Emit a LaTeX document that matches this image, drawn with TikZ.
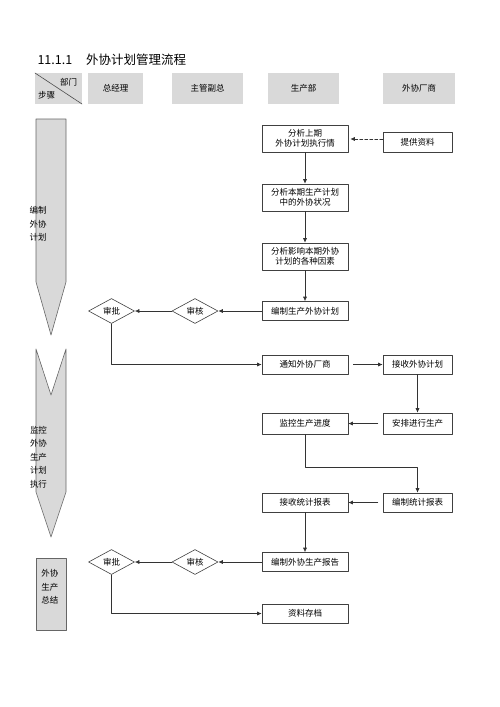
\documentclass[tikz,border=0pt]{standalone}
\usepackage{fontspec}
\setmainfont{Noto Sans CJK SC}
\usetikzlibrary{arrows.meta,shapes.geometric}

\begin{document}
\begin{tikzpicture}[
    x=1pt,
    y=-1pt,
    line cap=round,
    line join=round,
    every node/.style={
        font=\fontsize{8.5}{10}\selectfont
    },
    box/.style={
        draw=black!75,
        line width=0.6pt,
        align=center,
        inner sep=1pt,
        minimum height=19pt
    },
    wide/.style={
        box,
        minimum width=86pt
    },
    narrow/.style={
        box,
        minimum width=69pt
    },
    check/.style={
        draw=black!75,
        line width=0.6pt,
        diamond,
        aspect=1.8,
        inner sep=0pt,
        minimum width=46pt,
        minimum height=25pt
    },
    head/.style={
        fill=gray!30,
        minimum height=31pt,
        inner sep=0pt
    },
    phase/.style={
        fill=gray!30,
        draw=black!60,
        line width=0.6pt
    },
    phasetext/.style={
        align=center,
        font=\fontsize{8.5}{13.5}\selectfont
    },
    flow/.style={
        draw=black!80,
        line width=0.6pt,
        -{Latex[length=4.5pt,width=4pt]}
    },
    feed/.style={
        flow,
        dashed,
        dash pattern=on 3pt off 2pt
    }
]

\useasboundingbox (0,0) rectangle (500,707);

% =================================================
% 标题与表头
% =================================================

\node[anchor=west, font=\fontsize{12.5}{15}\selectfont] (title) at (34,60)
    {11.1.1\hspace{14pt}外协计划管理流程};

\fill[gray!30] (35,73) rectangle (82,104);
\draw[black!70, line width=0.6pt] (35,73) -- (82,104);
\node (dept)  at (68.5,82) {部门};
\node (steps) at (46.5,95) {步骤};

\node[head, minimum width=55pt] (gm)     at (115.5,88.5) {总经理};
\node[head, minimum width=71pt] (vp)     at (207.5,88.5) {主管副总};
\node[head, minimum width=71pt] (prod)   at (303.5,88.5) {生产部};
\node[head, minimum width=72pt] (vendor) at (419,88.5)   {外协厂商};

% =================================================
% 左侧阶段箭头
% =================================================

\draw[phase] (36,119) -- (66,119) -- (66,282) -- (51,335) -- (36,282) -- cycle;
\draw[phase] (36,349) -- (51,395) -- (66,349) -- (66,492) -- (51,537) -- (36,492) -- cycle;
\draw[phase] (36,558) rectangle (66,630);

\node[phasetext] (phaseA) at (38,224) {编制\\外协\\计划};
\node[phasetext] (phaseB) at (38.5,457) {监控\\外协\\生产\\计划\\执行};
\node[phasetext] (phaseC) at (50,587) {外协\\生产\\总结};

% =================================================
% 编制外协计划
% =================================================

\node[wide, minimum height=27pt] (lastrun) at (305,138.5) {分析上期\\外协计划执行情};
\node[narrow, minimum height=20pt] (supply) at (417.5,142) {提供资料};
\node[wide, minimum height=27pt] (current) at (305,197.5) {分析本期生产计划\\中的外协状况};
\node[wide, minimum height=27pt] (factors) at (305,256.5) {分析影响本期外协\\计划的各种因素};
\node[wide] (plan) at (305,311) {编制生产外协计划};
\node[check] (auditA) at (195,311) {审核};
\node[check] (approveA) at (111.5,311) {审批};

\draw[feed, shorten >=2pt] (supply.west |- 0,139) -- (lastrun.east |- 0,139);
\draw[flow] (lastrun) -- (current);
\draw[flow] (current) -- (factors);
\draw[flow] (factors) -- (plan);
\draw[flow] (plan) -- (auditA);
\draw[flow] (auditA) -- (approveA);

% =================================================
% 监控外协生产计划执行
% =================================================

\node[wide] (notify) at (305,364.5) {通知外协厂商};
\node[narrow] (receive) at (417.5,364.5) {接收外协计划};
\node[narrow, minimum height=21pt] (arrange) at (417.5,423.5) {安排进行生产};
\node[wide, minimum height=21pt] (monitor) at (305,423.5) {监控生产进度};
\node[narrow] (compile) at (417.5,502.5) {编制统计报表};
\node[wide] (collect) at (305,502.5) {接收统计报表};

\draw[flow] (approveA.south) |- (notify.west);
\draw[flow, shorten <=5pt] (notify) -- (receive);
\draw[flow] (receive) -- (arrange);
\draw[flow, shorten <=5pt] (arrange) -- (monitor);
\draw[flow] (monitor.south) -- ++(0,33) -| (compile.north);
\draw[flow, shorten <=5pt] (compile) -- (collect);

% =================================================
% 外协生产总结
% =================================================

\node[wide] (report) at (305,562) {编制外协生产报告};
\node[check] (auditB) at (195,562) {审核};
\node[check] (approveB) at (111.5,562) {审批};
\node[wide] (archive) at (305,613.5) {资料存档};

\draw[flow] (collect) -- (report);
\draw[flow] (report) -- (auditB);
\draw[flow] (auditB) -- (approveB);
\draw[flow] (approveB.south) |- (archive.west);

\end{tikzpicture}
\end{document}
